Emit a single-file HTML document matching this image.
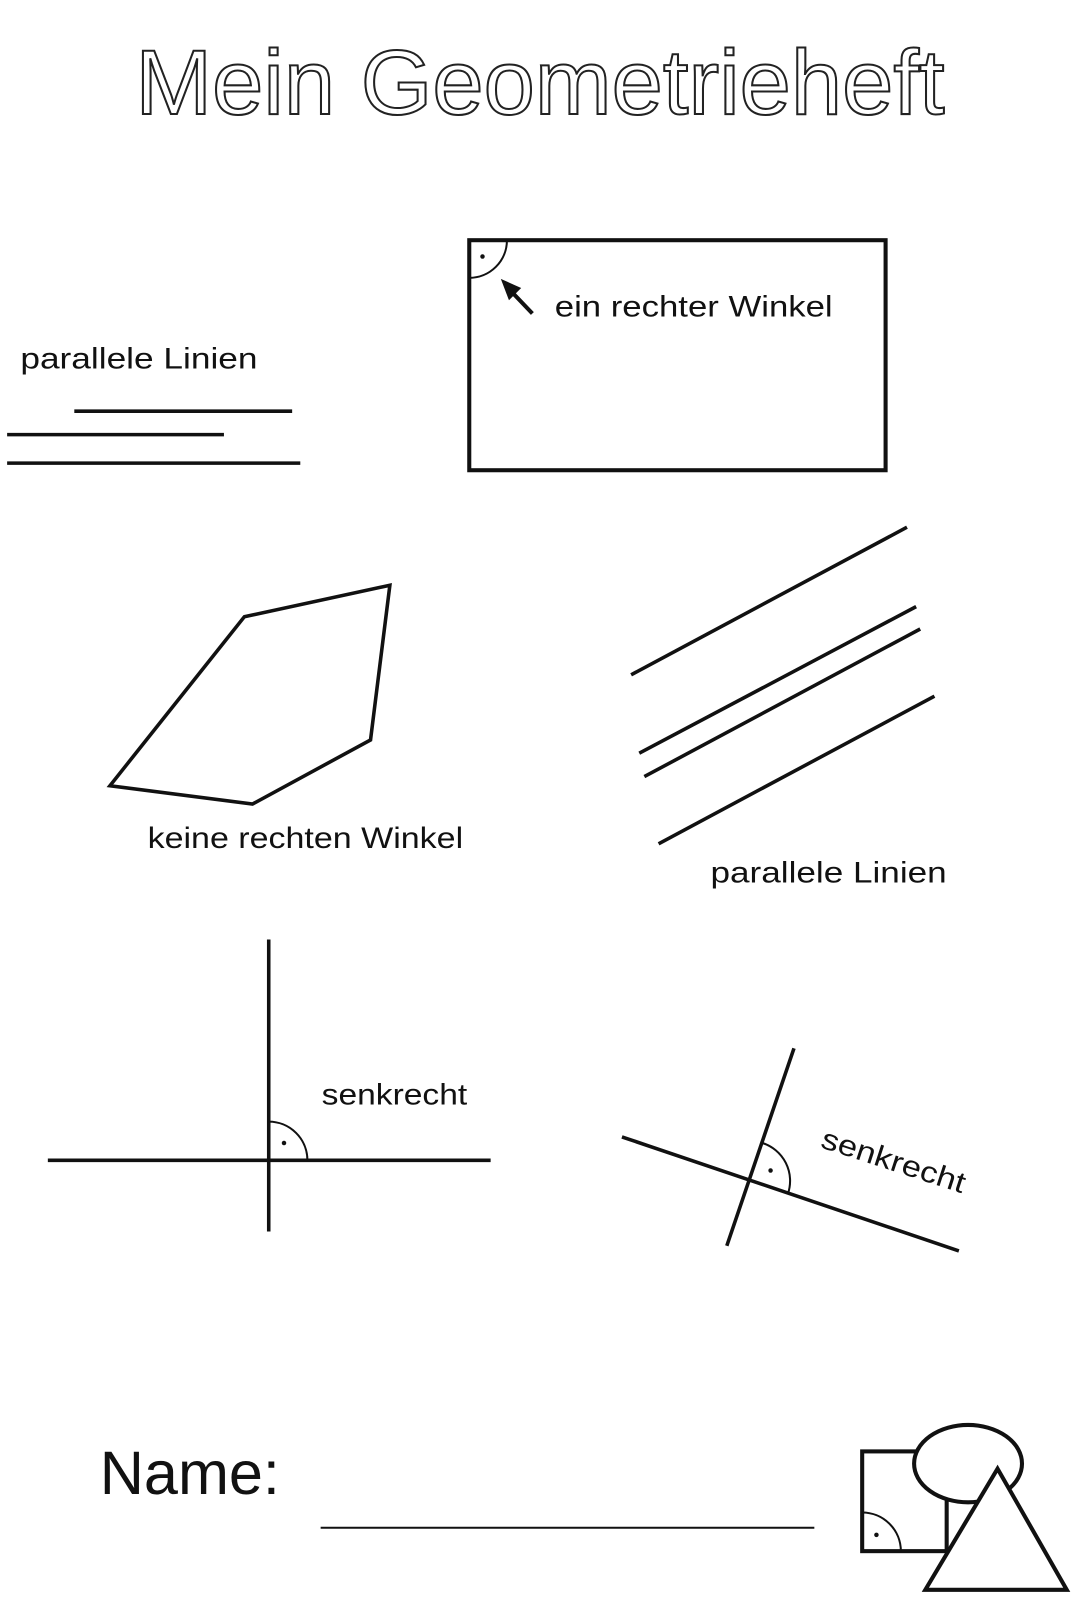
<!DOCTYPE html>
<html><head><meta charset="utf-8"><style>
html,body{margin:0;padding:0;background:#fff;}
svg{display:block;}
text{font-family:"Liberation Sans","DejaVu Sans",sans-serif;fill:#111;}
</style></head><body>
<svg width="1079" height="1600" viewBox="0 0 1060 1572" preserveAspectRatio="none" xmlns="http://www.w3.org/2000/svg">
<rect width="1060" height="1572" fill="#fff"/>
<text x="133" y="112" font-size="90" textLength="795" lengthAdjust="spacingAndGlyphs" style="fill:none;stroke:#222;stroke-width:2">Mein Geometrieheft</text>

<g stroke="#111" stroke-width="3.5" fill="none" stroke-linecap="butt">
<text x="20" y="362" font-size="29" stroke="none" textLength="233" lengthAdjust="spacingAndGlyphs">parallele Linien</text>
<line x1="73" y1="404" x2="287" y2="404"/>
<line x1="7" y1="427" x2="220" y2="427"/>
<line x1="7" y1="455" x2="295" y2="455"/>

<rect x="461" y="236" width="409" height="226" stroke-width="4"/>
<path d="M461 273 A37 37 0 0 0 498 236" stroke-width="2"/>
<circle cx="474" cy="252" r="2.2" fill="#111" stroke="none"/>
<line x1="523" y1="308" x2="502" y2="286" stroke-width="4"/>
<polygon points="492,274 512,283 500,295" fill="#111" stroke="none"/>
<text x="545" y="311" font-size="29" stroke="none" textLength="273" lengthAdjust="spacingAndGlyphs">ein rechter Winkel</text>

<polygon points="240,606 383,575 364,727 248,790 108,772" stroke-width="3.5"/>
<text x="145" y="833" font-size="29" stroke="none" textLength="310" lengthAdjust="spacingAndGlyphs">keine rechten Winkel</text>

<line x1="620" y1="663" x2="891" y2="518"/>
<line x1="628" y1="740" x2="900" y2="596"/>
<line x1="633" y1="763" x2="904" y2="618"/>
<line x1="647" y1="829" x2="918" y2="684"/>
<text x="698" y="867" font-size="29" stroke="none" textLength="232" lengthAdjust="spacingAndGlyphs">parallele Linien</text>

<line x1="264" y1="923" x2="264" y2="1210"/>
<line x1="47" y1="1140" x2="482" y2="1140"/>
<path d="M264 1102 A38 38 0 0 1 302 1140" stroke-width="2"/>
<circle cx="279" cy="1123" r="2.2" fill="#111" stroke="none"/>
<text x="316" y="1085" font-size="29" stroke="none" textLength="143" lengthAdjust="spacingAndGlyphs">senkrecht</text>

<line x1="611" y1="1117" x2="942" y2="1229"/>
<line x1="780" y1="1030" x2="714" y2="1224"/>
<path d="M749 1123 A39 39 0 0 1 774 1173" stroke-width="2"/>
<circle cx="757" cy="1150" r="2.2" fill="#111" stroke="none"/>
<text x="0" y="0" font-size="29" stroke="none" textLength="147" lengthAdjust="spacingAndGlyphs" transform="translate(805,1127) rotate(18)">senkrecht</text>

<text x="98" y="1468" font-size="60" stroke="none" textLength="177" lengthAdjust="spacingAndGlyphs">Name:</text>
<line x1="315" y1="1501" x2="800" y2="1501" stroke-width="2"/>

<rect x="847" y="1426" width="83" height="98" stroke-width="4"/>
<path d="M847 1486 A38 38 0 0 1 885 1524" stroke-width="2"/>
<circle cx="861" cy="1508" r="2.2" fill="#111" stroke="none"/>
<ellipse cx="951" cy="1438" rx="53" ry="38" fill="#fff" stroke-width="4"/>
<polygon points="980,1443 1048,1562 909,1562" fill="#fff" stroke-width="4"/>
</g>
</svg>
</body></html>
